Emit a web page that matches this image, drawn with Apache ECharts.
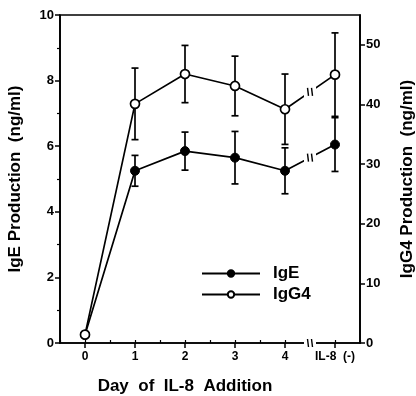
<!DOCTYPE html>
<html>
<head>
<meta charset="utf-8">
<script src="https://cdn.jsdelivr.net/npm/echarts@6/dist/echarts.min.js"></script>
<style>
  html, body { margin: 0; padding: 0; background: #fff; }
  #main { width: 416px; height: 396px; }
</style>
</head>
<body>
<div id="main"></div>
<script>
const days = [0, 1, 2, 3, 4, 5]
const dayLabels = ['0', '1', '2', '3', '4', 'IL-8  (-)']
const igeMean = [0.25, 5.25, 5.85, 5.65, 5.25, 6.05]
const igeErr = [0, 0.47, 0.58, 0.8, 0.7, 0.82]
const igg4Mean = [1.4, 40.1, 45.1, 43.1, 39.2, 45.0]
const igg4Err = [0, 6, 4.8, 5, 5.9, 7]
const leftTicks = [0, 2, 4, 6, 8, 10]
const rightTicks = [0, 10, 20, 30, 40, 50]

const FONT = 'Liberation Sans, Arial, sans-serif'
const myChart = echarts.init(document.getElementById('main'))

const pairs = (ys) => days.map((d, i) => [d, ys[i]])
const errData = (m, e) => days.filter((d, i) => e[i] > 0).map((d) => {
  const i = days.indexOf(d)
  return [d, m[i] - e[i], m[i] + e[i]]
})

const errBars = (name, yIdx, data) => ({
  name: name + '-err',
  type: 'custom',
  yAxisIndex: yIdx,
  silent: true,
  z: 1,
  data: data,
  encode: { x: 0, y: [1, 2] },
  renderItem: (params, api) => {
    const lo = api.coord([api.value(0), api.value(1)])
    const hi = api.coord([api.value(0), api.value(2)])
    const w = 3.5
    const st = { stroke: '#000', lineWidth: 1.7 }
    return {
      type: 'group',
      children: [
        { type: 'line', shape: { x1: lo[0], y1: lo[1], x2: hi[0], y2: hi[1] }, style: st },
        { type: 'line', shape: { x1: lo[0] - w, y1: lo[1], x2: lo[0] + w, y2: lo[1] }, style: st },
        { type: 'line', shape: { x1: hi[0] - w, y1: hi[1], x2: hi[0] + w, y2: hi[1] }, style: st }
      ]
    }
  }
})

const yCommon = {
  type: 'value',
  axisLine: { show: true, onZero: false, lineStyle: { color: '#000', width: 1.7 } },
  axisTick: { show: true, length: 5, lineStyle: { color: '#000', width: 1.5 } },
  minorTick: { show: true, splitNumber: 2, length: 3, lineStyle: { color: '#000', width: 1.2 } },
  splitLine: { show: false },
  axisLabel: { color: '#000', fontFamily: FONT, fontWeight: 'bold', fontSize: 13, margin: 6 },
  nameLocation: 'middle',
  nameTextStyle: { color: '#000', fontFamily: FONT, fontWeight: 'bold', fontSize: 17 }
}

myChart.setOption({
  animation: false,
  grid: {
    left: 60, right: 56, top: 15, bottom: 53,
    outerBoundsMode: 'none', containLabel: false,
    show: true, borderColor: '#000', borderWidth: 1.7
  },
  legend: {
    orient: 'vertical',
    left: 196,
    top: 260,
    itemWidth: 58,
    itemHeight: 8,
    itemGap: 4,
    data: ['IgE', 'IgG4'],
    textStyle: { color: '#000', fontFamily: FONT, fontWeight: 'bold', fontSize: 17, padding: [0, 0, 0, 8] }
  },
  xAxis: [
    {
      type: 'value',
      min: -0.5,
      max: 5.5,
      interval: 0.5,
      name: 'Day  of  IL-8  Addition',
      nameLocation: 'middle',
      nameGap: 35,
      nameTextStyle: { color: '#000', fontFamily: FONT, fontWeight: 'bold', fontSize: 17, padding: [0, 50, 0, 0] },
      axisLine: { show: true, onZero: false, lineStyle: { color: '#000', width: 1.7 } },
      axisTick: { show: true, length: 5, customValues: days, lineStyle: { color: '#000', width: 1.5 } },
      splitLine: { show: false },
      axisLabel: {
        customValues: days,
        color: '#000', fontFamily: FONT, fontWeight: 'bold', fontSize: 12, margin: 8,
        formatter: (v) => dayLabels[days.indexOf(v)] || ''
      }
    },
    {
      type: 'value',
      position: 'bottom',
      min: -0.5,
      max: 5.5,
      interval: 0.5,
      axisLine: { show: false, onZero: false },
      axisTick: { show: true, length: 3, inside: true, lineStyle: { color: '#000', width: 1.2 } },
      axisLabel: { show: false },
      splitLine: { show: false }
    }
  ],
  yAxis: [
    Object.assign({}, yCommon, {
      min: 0, max: 10, interval: 2,
      name: 'IgE Production  (ng/ml)',
      nameGap: 36,
      axisLabel: Object.assign({}, yCommon.axisLabel, { customValues: leftTicks })
    }),
    Object.assign({}, yCommon, {
      min: 0, max: 55, interval: 5,
      position: 'right',
      name: 'IgG4 Production  (ng/ml)',
      nameGap: 39,
      axisTick: Object.assign({}, yCommon.axisTick, { customValues: rightTicks }),
      minorTick: { show: false },
      axisLabel: Object.assign({}, yCommon.axisLabel, { customValues: rightTicks })
    })
  ],
  series: [
    errBars('IgE', 0, errData(igeMean, igeErr)),
    errBars('IgG4', 1, errData(igg4Mean, igg4Err)),
    {
      name: 'IgE',
      type: 'line',
      yAxisIndex: 0,
      data: pairs(igeMean),
      symbol: 'circle',
      symbolSize: 9,
      z: 3,
      lineStyle: { color: '#000', width: 1.7 },
      itemStyle: { color: '#000', borderColor: '#000', borderWidth: 1 }
    },
    {
      name: 'IgG4',
      type: 'line',
      yAxisIndex: 1,
      data: pairs(igg4Mean),
      symbol: 'circle',
      symbolSize: 9,
      z: 4,
      lineStyle: { color: '#000', width: 1.7 },
      itemStyle: { color: '#fff', borderColor: '#000', borderWidth: 1.7 }
    }
  ]
})

// break marks "||" between day 4 and the IL-8 (-) control
const breakMark = (p) => ([
  { type: 'rect', shape: { x: p[0] - 6, y: p[1] - 6, width: 12, height: 12 }, style: { fill: '#fff' }, z: 100 },
  { type: 'line', shape: { x1: p[0] - 2.5, y1: p[1] - 4, x2: p[0] - 1.5, y2: p[1] + 4 }, style: { stroke: '#000', lineWidth: 1.4 }, z: 101 },
  { type: 'line', shape: { x1: p[0] + 1.5, y1: p[1] - 4, x2: p[0] + 2.5, y2: p[1] + 4 }, style: { stroke: '#000', lineWidth: 1.4 }, z: 101 }
])
const mid = (a, b) => (a + b) / 2
const pIge = myChart.convertToPixel({ xAxisIndex: 0, yAxisIndex: 0 }, [4.5, mid(igeMean[4], igeMean[5])])
const pIgg = myChart.convertToPixel({ xAxisIndex: 0, yAxisIndex: 1 }, [4.5, mid(igg4Mean[4], igg4Mean[5])])
const pAxis = myChart.convertToPixel({ xAxisIndex: 0, yAxisIndex: 0 }, [4.5, 0])
myChart.setOption({
  graphic: [].concat(breakMark(pIge), breakMark(pIgg), breakMark(pAxis))
})
</script>
</body>
</html>
